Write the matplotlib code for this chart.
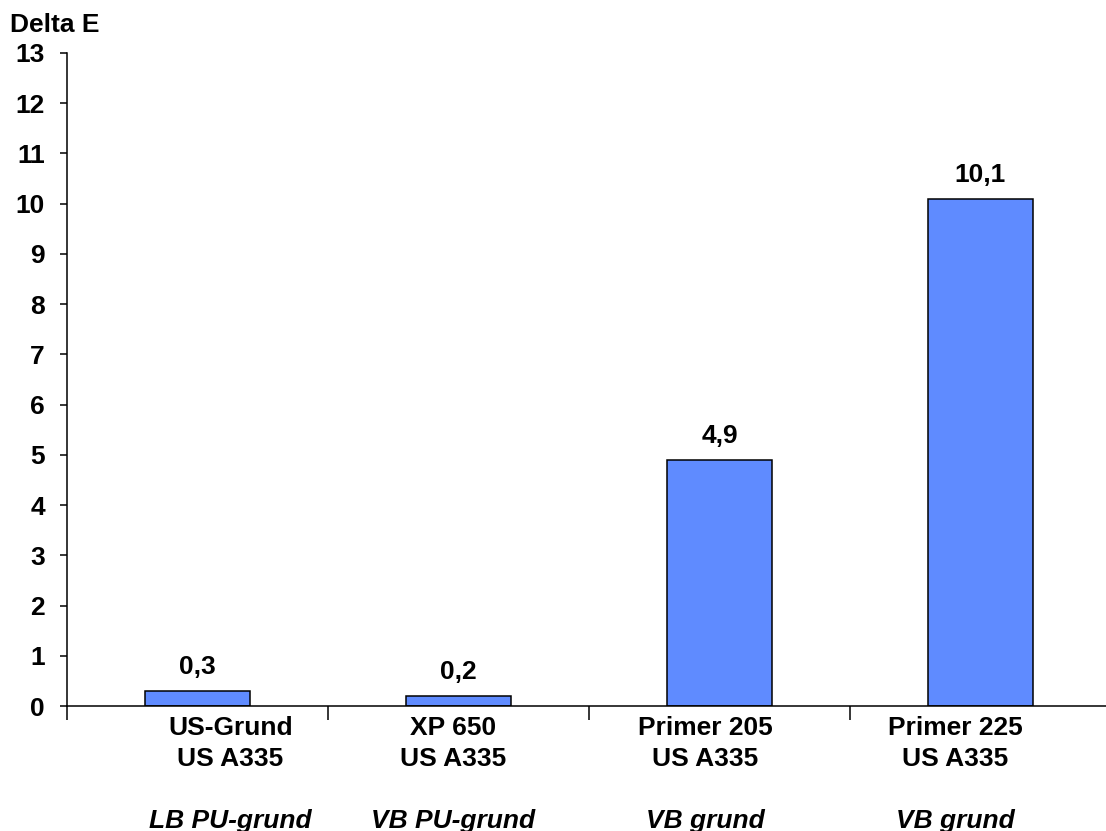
import numpy as np
import matplotlib.pyplot as plt

# data
products = ["US-Grund", "XP 650", "Primer 205", "Primer 225"]
topcoat = ["US A335", "US A335", "US A335", "US A335"]
primer_type = ["LB PU-grund", "VB PU-grund", "VB grund", "VB grund"]
delta_e = [0.3, 0.2, 4.9, 10.1]
value_labels = ["0,3", "0,2", "4,9", "10,1"]

# label centres are a bit off the bar centres in the original
label_shift = [0.126, -0.02, -0.054, -0.096]

plt.rcParams["font.family"] = ["Liberation Sans", "DejaVu Sans"]
plt.rcParams["font.weight"] = "bold"
FS = 19

fig = plt.figure(figsize=(11.06, 8.31), dpi=100)
ax = fig.add_axes([67/1106, 125/831, 1044/1106, 653/831])

x = np.arange(len(delta_e))
ax.bar(x, delta_e, width=0.4, color="#5f8bff", edgecolor="black", linewidth=1.1, zorder=2)

for xi, v, lab in zip(x, delta_e, value_labels):
    ax.annotate(lab, (xi, v), xytext=(0, 12), textcoords="offset points",
                ha="center", va="baseline", fontsize=FS, fontweight="bold")

for xi, sh, p, t, g in zip(x, label_shift, products, topcoat, primer_type):
    xl = xi + sh
    ax.annotate(p, (xl, 0), xytext=(0, -21), textcoords="offset points",
                ha="center", va="baseline", fontsize=FS, fontweight="bold", annotation_clip=False)
    ax.annotate(t, (xl, 0), xytext=(0, -43), textcoords="offset points",
                ha="center", va="baseline", fontsize=FS, fontweight="bold", annotation_clip=False)
    ax.annotate(g, (xl, 0), xytext=(0, -87.5), textcoords="offset points",
                ha="center", va="baseline", fontsize=FS, fontweight="bold",
                fontstyle="italic", annotation_clip=False)

ax.set_xlim(-0.5, 3.5)
ax.set_ylim(0, 13)
ax.set_yticks(range(0, 14))
ax.set_xticks(np.arange(-0.5, 4, 1.0))
ax.set_xticklabels([])
ax.tick_params(axis="y", direction="out", length=5, width=1.1, pad=11, labelsize=FS)
ax.tick_params(axis="x", direction="out", length=10, width=1.1)
for lbl in ax.get_yticklabels():
    lbl.set_fontweight("bold")

ax.spines["top"].set_visible(False)
ax.spines["right"].set_visible(False)
ax.spines["left"].set_linewidth(1.1)
ax.spines["bottom"].set_linewidth(1.1)

fig.text(10/1106, 1 - 32/831, "Delta E", fontsize=FS, fontweight="bold", va="baseline")

fig.savefig("out.png", dpi=100)
